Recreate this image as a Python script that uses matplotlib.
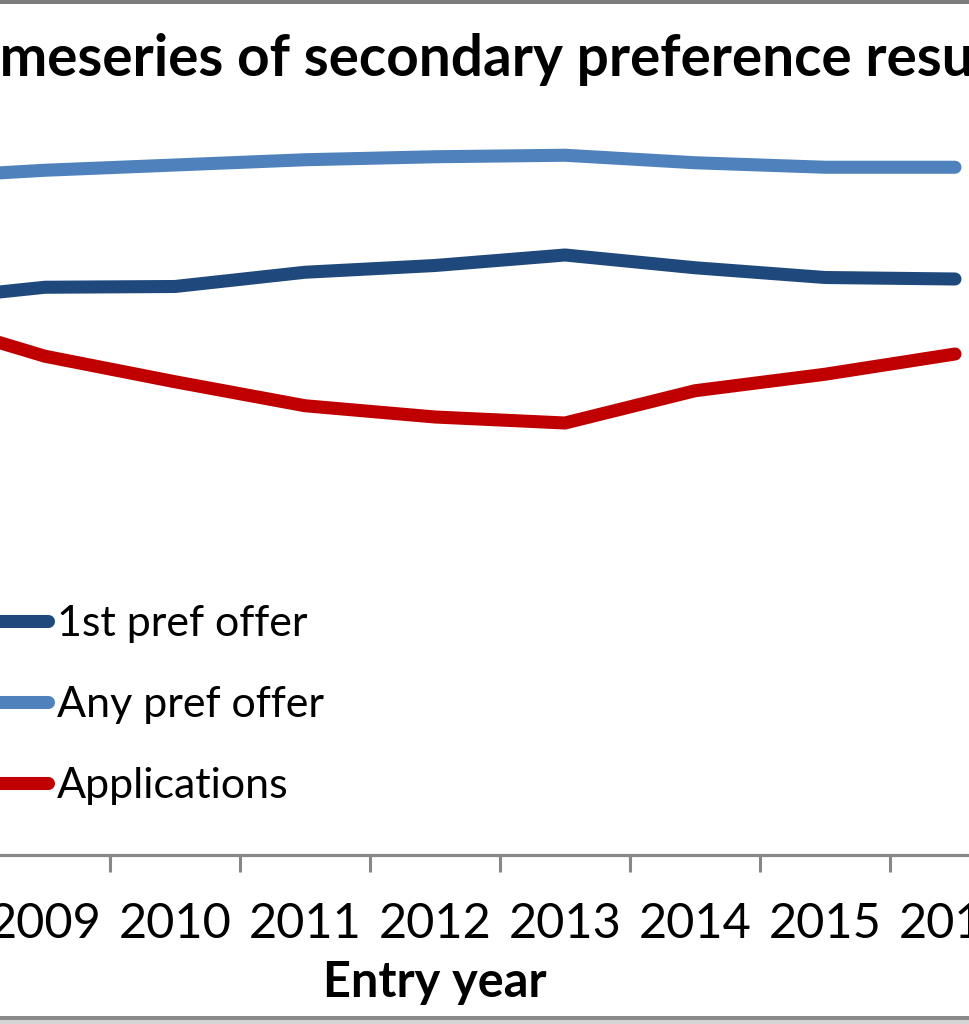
import matplotlib
matplotlib.use("Agg")
import matplotlib.pyplot as plt
from matplotlib.patches import Rectangle
from matplotlib.ticker import FixedLocator, NullFormatter

# ---- data (y axis is not shown, arbitrary % scale) ----
years = [2008, 2009, 2010, 2011, 2012, 2013, 2014, 2015, 2016]
first_pref_offer = [73.9, 75.7, 75.8, 77.7, 78.6, 80.0, 78.3, 77.0, 76.8]
any_pref_offer = [90.3, 91.3, 92.0, 92.7, 93.1, 93.3, 92.3, 91.7, 91.7]
applications = [71.7, 66.5, 63.1, 59.9, 58.4, 57.6, 61.9, 64.1, 66.8]
series_names = ["1st pref offer", "Any pref offer", "Applications"]
series_colors = ["#1F497D", "#4F81BD", "#C00000"]
title_full = "Timeseries of secondary preference results"
title_hidden_prefix = "Ti"
title_visible = "meseries of secondary preference resu"
xlabel = "Entry year"

FAM = ["Lato", "DejaVu Sans"]
W, H = 970, 1024
fig = plt.figure(figsize=(W / 100, H / 100), dpi=100)
fig.patch.set_facecolor("white")

# axes placed in pixel terms (cropped view of a wider chart)
ax_left_px, ax_right_px = -150, 1020
ax_bottom_px, ax_top_px = 1024 - 855, 1024 - 105
ax = fig.add_axes([ax_left_px / W, ax_bottom_px / H,
                   (ax_right_px - ax_left_px) / W, (ax_top_px - ax_bottom_px) / H])
ax.set_xlim(years[0] - 0.5, years[-1] + 0.5)
ax.set_ylim(0, 100)

lw = 9.4
for vals, name, col in zip([first_pref_offer, any_pref_offer, applications],
                           series_names, series_colors):
    ax.plot(years, vals, color=col, lw=lw, label=name,
            solid_capstyle="round", solid_joinstyle="round")

for s in ["left", "right", "top"]:
    ax.spines[s].set_visible(False)
ax.spines["bottom"].set_color("#878787")
ax.spines["bottom"].set_linewidth(2.3)
ax.set_yticks([])

ax.xaxis.set_major_locator(FixedLocator(years))
ax.set_xticklabels([str(y) for y in years])
ax.xaxis.set_minor_locator(FixedLocator([y + 0.5 for y in [years[0] - 1] + years]))
ax.xaxis.set_minor_formatter(NullFormatter())
ax.tick_params(axis="x", which="major", length=0, pad=34, labelsize=35,
               labelcolor="black")
ax.tick_params(axis="x", which="minor", length=12.5, width=2.2, color="#878787",
               direction="out")
for lab in ax.get_xticklabels():
    lab.set_family(FAM)

ax.set_xlabel(xlabel, fontsize=35, fontweight="bold", family=FAM)
ax.xaxis.set_label_coords(0.5, (27 - ax_bottom_px) / (ax_top_px - ax_bottom_px))
ax.xaxis.label.set_va("baseline")

# legend
leg = ax.legend(loc="center left", frameon=False, prop={"family": FAM, "size": 31},
                handlelength=2.0, handletextpad=0.2, labelspacing=1.0,
                borderpad=0, borderaxespad=0,
                bbox_to_anchor=(-38 / W, (1024 - 705) / H),
                bbox_transform=fig.transFigure)
for ln in leg.get_lines():
    ln.set_linewidth(lw)
    ln.set_solid_capstyle("round")

# title (cropped: only the middle part visible)
renderer = fig.canvas.get_renderer()
probe_vis = fig.text(0, 0, title_visible, fontsize=30, fontweight="bold", family=FAM)
probe_pre = fig.text(0, 0, title_hidden_prefix, fontsize=30, fontweight="bold", family=FAM)
w_vis = probe_vis.get_window_extent(renderer).width
w_pre = probe_pre.get_window_extent(renderer).width
for p in (probe_vis, probe_pre):
    p.remove()
scale = 975 / w_vis
fs_title = 30 * scale
x_title = -(w_pre * scale) / W
fig.text(x_title, 1 - 76 / H, title_full, fontsize=fs_title, fontweight="bold",
         family=FAM, ha="left", va="baseline")

# frame borders of the cropped chart
fig.add_artist(Rectangle((0, 1 - 4 / H), 1, 4 / H, transform=fig.transFigure,
                         color="#7d7d7d", lw=0))
fig.add_artist(Rectangle((0, 4 / H), 1, 4 / H, transform=fig.transFigure,
                         color="#8a8a8a", lw=0))
fig.add_artist(Rectangle((0, 0), 1, 4 / H, transform=fig.transFigure,
                         color="#d4d4d4", lw=0))

fig.savefig("out.png", dpi=100, facecolor="white")
